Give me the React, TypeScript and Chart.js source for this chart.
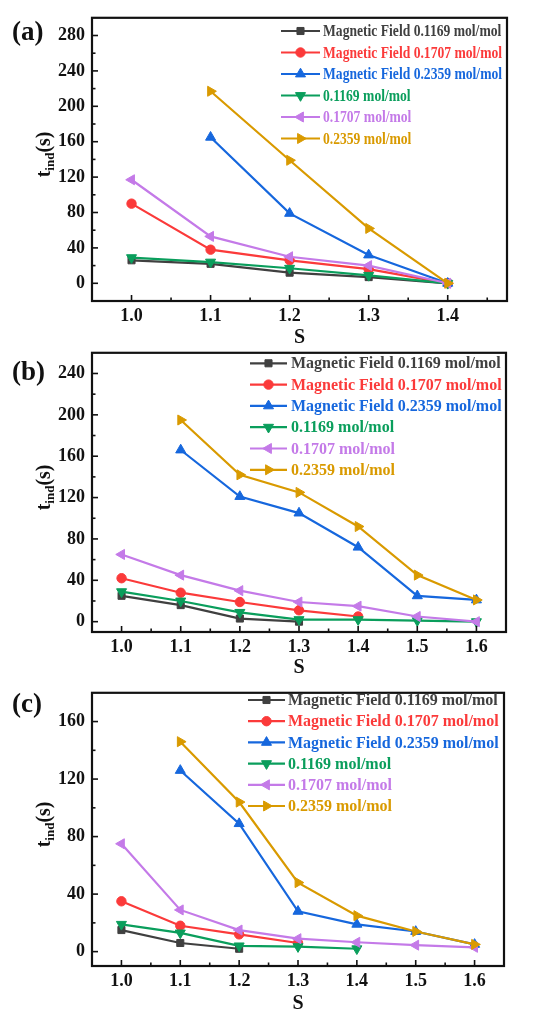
import React, { useEffect, useRef } from 'react';
import { Chart, registerables } from 'chart.js';
import { drawPoint } from 'chart.js/helpers';

Chart.register(...registerables);

const SERIF = '"Liberation Serif", "Times New Roman", serif';
const INK = '#111111';

const SERIES_NAMES = [
  'Magnetic Field 0.1169 mol/mol',
  'Magnetic Field 0.1707 mol/mol',
  'Magnetic Field 0.2359 mol/mol',
  '0.1169 mol/mol',
  '0.1707 mol/mol',
  '0.2359 mol/mol',
];

// S values on the x axis
const S_A = [1.0, 1.1, 1.2, 1.3, 1.4];
const S_BC = [1.0, 1.1, 1.2, 1.3, 1.4, 1.5, 1.6];

// panel (a) t_ind (s)
const A_MF_1169 = [26, 22, 12, 7, 0];
const A_MF_1707 = [90, 38, 26, 16, 0];
const A_MF_2359 = [null, 165, 79, 32, 0];
const A_1169 = [29, 24, 17, 9, 0];
const A_1707 = [117, 53, 30, 20, 0];
const A_2359 = [null, 217, 139, 62, 0];

// panel (b)
const B_MF_1169 = [25, 16, 3, 0, null, null, null];
const B_MF_1707 = [42, 28, 19, 11, 5, null, null];
const B_MF_2359 = [null, 166, 121, 105, 72, 25, 21];
const B_1169 = [29, 20, 9, 2, 2, 1, 0];
const B_1707 = [65, 45, 30, 19, 15, 5, 0];
const B_2359 = [null, 195, 142, 125, 92, 45, 21];

// panel (c)
const C_MF_1169 = [15, 6, 2, null, null, null, null];
const C_MF_1707 = [35, 18, 12, 6, null, null, null];
const C_MF_2359 = [null, 126, 89, 28, 19, 14, 5];
const C_1169 = [19, 13, 4, 3.5, 2, null, null];
const C_1707 = [75, 29, 15, 9, 6.5, 4.5, 3];
const C_2359 = [null, 146, 104, 48, 25, 14, 5];

const Y_TICKS_A = [0, 40, 80, 120, 160, 200, 240, 280];
const Y_TICKS_B = [0, 40, 80, 120, 160, 200, 240];
const Y_TICKS_C = [0, 40, 80, 120, 160];

const SERIES_STYLE = [
  { color: '#404040', pointStyle: 'rect', rotation: 0, radius: 5 },
  { color: '#fb3a3a', pointStyle: 'circle', rotation: 0, radius: 4.7 },
  { color: '#1667dd', pointStyle: 'triangle', rotation: 0, radius: 5.8 },
  { color: '#0a9e5c', pointStyle: 'triangle', rotation: 180, radius: 5.8 },
  { color: '#c47ae8', pointStyle: 'triangle', rotation: 270, radius: 5.8 },
  { color: '#d99a00', pointStyle: 'triangle', rotation: 90, radius: 5.8 },
];

interface PanelProps {
  tag: string;
  s: number[];
  series: (number | null)[][];
  yTicks: number[];
  xRange: [number, number];
  yRange: [number, number];
  top: number;
  height: number;
  area: { top: number; bottom: number; right: number };
  tagY: number;
  legend: { lineX: number; lineW: number; textX: number; y: number; gap: number; scaleX: number };
  titlePad: number;
}

const Panel: React.FC<PanelProps> = (p) => {
  const canvasRef = useRef<HTMLCanvasElement>(null);

  useEffect(() => {
    if (!canvasRef.current) return;

    // frame, inward ticks, panel tag, y title and legend
    const decor = {
      id: 'decor',
      afterDraw(chart: Chart) {
        const { ctx, chartArea: ca } = chart;
        const xs = chart.scales.x;
        const ys = chart.scales.y;
        const line = (x1: number, y1: number, x2: number, y2: number) => {
          ctx.beginPath();
          ctx.moveTo(x1, y1);
          ctx.lineTo(x2, y2);
          ctx.stroke();
        };
        ctx.save();
        ctx.strokeStyle = INK;
        ctx.lineWidth = 1.6;
        const eps = 1e-6;
        p.s.forEach((v) => {
          const x = xs.getPixelForValue(v);
          line(x, ca.bottom, x, ca.bottom - 6);
          const m = v + 0.05;
          if (m < p.xRange[1] - eps) {
            const mx = xs.getPixelForValue(m);
            line(mx, ca.bottom, mx, ca.bottom - 3.5);
          }
        });
        p.yTicks.forEach((v) => {
          const y = ys.getPixelForValue(v);
          line(ca.left, y, ca.left + 6, y);
          const m = v + 20;
          if (m < p.yRange[1] - eps) {
            const my = ys.getPixelForValue(m);
            line(ca.left, my, ca.left + 3.5, my);
          }
        });
        ctx.lineWidth = 2.2;
        ctx.strokeRect(ca.left, ca.top, ca.right - ca.left, ca.bottom - ca.top);

        ctx.fillStyle = INK;
        ctx.textAlign = 'left';
        ctx.textBaseline = 'middle';
        ctx.font = `bold 27px ${SERIF}`;
        ctx.fillText(`(${p.tag})`, 12, p.tagY);

        // y title t_ind(s)
        ctx.save();
        ctx.translate(43, (ca.top + ca.bottom) / 2 - 5);
        ctx.rotate(-Math.PI / 2);
        ctx.textBaseline = 'alphabetic';
        const big = `bold 20px ${SERIF}`;
        const small = `bold 13px ${SERIF}`;
        ctx.font = big;
        const wT = ctx.measureText('t').width;
        const wS = ctx.measureText('(s)').width;
        ctx.font = small;
        const wI = ctx.measureText('ind').width;
        let tx = -(wT + wI + wS) / 2;
        ctx.font = big;
        ctx.fillText('t', tx, 7);
        tx += wT;
        ctx.font = small;
        ctx.fillText('ind', tx, 11);
        tx += wI;
        ctx.font = big;
        ctx.fillText('(s)', tx, 7);
        ctx.restore();

        // legend
        const lg = p.legend;
        chart.data.datasets.forEach((ds, i) => {
          const st = SERIES_STYLE[i];
          const y = lg.y + i * lg.gap;
          ctx.strokeStyle = st.color;
          ctx.fillStyle = st.color;
          ctx.lineWidth = 2.2;
          line(lg.lineX, y, lg.lineX + lg.lineW, y);
          ctx.lineWidth = 1;
          drawPoint(ctx, { pointStyle: st.pointStyle as any, rotation: st.rotation, radius: st.radius, borderWidth: 1 }, lg.lineX + lg.lineW / 2, y);
          ctx.font = `bold 16px ${SERIF}`;
          ctx.textBaseline = 'middle';
          ctx.save();
          ctx.translate(lg.textX, y + 1);
          ctx.scale(lg.scaleX, 1);
          ctx.fillText(String(ds.label), 0, 0);
          ctx.restore();
        });
        ctx.restore();
      },
    };

    const tickFont = { family: SERIF, size: 18, weight: 'bold' as const };

    const chart = new Chart(canvasRef.current, {
      type: 'line',
      data: {
        datasets: p.series.map((vals, i) => {
          const st = SERIES_STYLE[i];
          return {
            label: SERIES_NAMES[i],
            data: p.s
              .map((x, j) => ({ x, y: vals[j] }))
              .filter((d) => d.y !== null && d.y !== undefined) as { x: number; y: number }[],
            borderColor: st.color,
            backgroundColor: st.color,
            pointBackgroundColor: st.color,
            pointBorderColor: st.color,
            pointStyle: st.pointStyle as any,
            pointRotation: st.rotation,
            pointRadius: st.radius,
            pointBorderWidth: 1,
            borderWidth: 2.2,
            tension: 0,
            order: SERIES_NAMES.length - i,
          };
        }),
      },
      options: {
        responsive: false,
        animation: false,
        events: [],
        layout: {
          padding: { top: p.area.top - p.top, right: 542 - p.area.right, left: 0, bottom: 0 },
        },
        plugins: {
          legend: { display: false },
          tooltip: { enabled: false },
        },
        scales: {
          x: {
            type: 'linear',
            min: p.xRange[0],
            max: p.xRange[1],
            afterBuildTicks: (sc) => {
              sc.ticks = p.s.map((v) => ({ value: v }));
            },
            afterFit: (sc) => {
              sc.height = p.height - (p.area.bottom - p.top);
            },
            grid: { display: false, drawTicks: false },
            border: { display: false },
            ticks: {
              padding: 5,
              color: INK,
              font: tickFont,
              maxRotation: 0,
              autoSkip: false,
              callback: (v) => Number(v).toFixed(1),
            },
            title: {
              display: true,
              text: 'S',
              color: INK,
              font: { family: SERIF, size: 20, weight: 'bold' },
              padding: { top: 0, bottom: p.titlePad },
            },
          },
          y: {
            type: 'linear',
            min: p.yRange[0],
            max: p.yRange[1],
            afterBuildTicks: (sc) => {
              sc.ticks = p.yTicks.map((v) => ({ value: v }));
            },
            afterFit: (sc) => {
              sc.width = 92;
            },
            grid: { display: false, drawTicks: false },
            border: { display: false },
            ticks: {
              padding: 7,
              color: INK,
              font: tickFont,
              callback: (v) => String(v),
            },
          },
        },
      },
      plugins: [decor],
    });

    return () => {
      chart.destroy();
    };
  }, []);

  return (
    <canvas
      ref={canvasRef}
      width={542}
      height={p.height}
      style={{ position: 'absolute', left: 0, top: p.top }}
    ></canvas>
  );
};

const App: React.FC = () => {
  return (
    <div style={{ position: 'absolute', left: 0, top: 0, width: 542, height: 1024, background: '#ffffff' }}>
      <Panel
        tag="a"
        s={S_A}
        series={[A_MF_1169, A_MF_1707, A_MF_2359, A_1169, A_1707, A_2359]}
        yTicks={Y_TICKS_A}
        xRange={[0.95, 1.475]}
        yRange={[-20, 300]}
        top={0}
        height={350}
        area={{ top: 16, bottom: 301, right: 507 }}
        tagY={33}
        legend={{ lineX: 281, lineW: 39, textX: 323, y: 31, gap: 21.5, scaleX: 0.85 }}
        titlePad={0}
      />
      <Panel
        tag="b"
        s={S_BC}
        series={[B_MF_1169, B_MF_1707, B_MF_2359, B_1169, B_1707, B_2359]}
        yTicks={Y_TICKS_B}
        xRange={[0.95, 1.65]}
        yRange={[-10, 260]}
        top={335}
        height={345}
        area={{ top: 349, bottom: 632, right: 506 }}
        tagY={38}
        legend={{ lineX: 250, lineW: 37, textX: 291, y: 28.3, gap: 21.3, scaleX: 1 }}
        titlePad={0}
      />
      <Panel
        tag="c"
        s={S_BC}
        series={[C_MF_1169, C_MF_1707, C_MF_2359, C_1169, C_1707, C_2359]}
        yTicks={Y_TICKS_C}
        xRange={[0.95, 1.65]}
        yRange={[-10, 180]}
        top={675}
        height={349}
        area={{ top: 685, bottom: 966, right: 504 }}
        tagY={30}
        legend={{ lineX: 248, lineW: 37, textX: 288, y: 25, gap: 21.2, scaleX: 1 }}
        titlePad={8}
      />
    </div>
  );
};

export default App;
